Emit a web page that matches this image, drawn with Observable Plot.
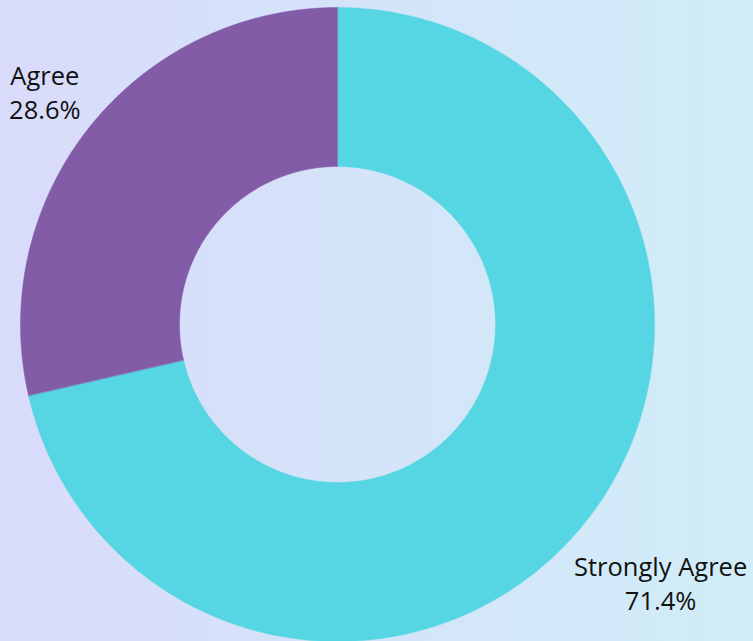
<!DOCTYPE html>
<html><head><meta charset="utf-8">
<script src="https://cdn.jsdelivr.net/npm/d3@7"></script>
<script src="https://cdn.jsdelivr.net/npm/@observablehq/plot@0.6"></script>
<style>
html,body{margin:0;padding:0;}
body{width:753px;height:641px;overflow:hidden;background:linear-gradient(to right,#d9dbfa,#d0edf8);}
#chart svg{display:block;background:transparent;}
</style></head><body><div id="chart"></div>
<script>
const categories = ["Strongly Agree", "Agree"];
const shares = [71.4, 28.6];
const valueLabels = ["71.4%", "28.6%"];
const sliceColors = ["#55d6e2", "#835ca8"];

// layout
const W = 753, H = 641;
const cx = 337, cy = 324, outerR = 317, innerR = 158;
const labelR = {"Strongly Agree": 413, "Agree": 374};

const data = categories.map((c, i) => ({category: c, value: shares[i], label: valueLabels[i]}));
const arcs = d3.pie().value(d => d.value).sort(null)(data);

// ring outlines sampled along arcs (angles from d3.pie, clockwise from 12 o'clock)
const ringPts = [];
for (const a of arcs) {
  const n = 240;
  for (let k = 0; k <= n; k++) {
    const t = a.startAngle + (a.endAngle - a.startAngle) * k / n;
    ringPts.push({category: a.data.category, x: cx + outerR * Math.sin(t), y: cy - outerR * Math.cos(t)});
  }
  for (let k = n; k >= 0; k--) {
    const t = a.startAngle + (a.endAngle - a.startAngle) * k / n;
    ringPts.push({category: a.data.category, x: cx + innerR * Math.sin(t), y: cy - innerR * Math.cos(t)});
  }
}
const labelPts = arcs.map(a => {
  const m = (a.startAngle + a.endAngle) / 2, r = labelR[a.data.category];
  return {text: a.data.category + "\n" + a.data.label, x: cx + r * Math.sin(m), y: cy - r * Math.cos(m)};
});

const chart = Plot.plot({
  width: W, height: H,
  margin: 0,
  style: {background: "transparent", fontFamily: "'Open Sans', sans-serif"},
  x: {domain: [0, W], range: [0, W], axis: null},
  y: {domain: [0, H], range: [0, H], axis: null},
  color: {domain: categories, range: sliceColors},
  marks: [
    Plot.line(ringPts, {x: "x", y: "y", z: "category", fill: "category", stroke: "category", strokeWidth: 0.5, curve: "linear-closed"}),
    Plot.text(labelPts, {x: "x", y: "y", text: "text", fontSize: 25.5, lineHeight: 1.33, fill: "#111", textAnchor: "middle", lineAnchor: "middle"})
  ]
});
document.getElementById("chart").appendChild(chart);
</script></body></html>
